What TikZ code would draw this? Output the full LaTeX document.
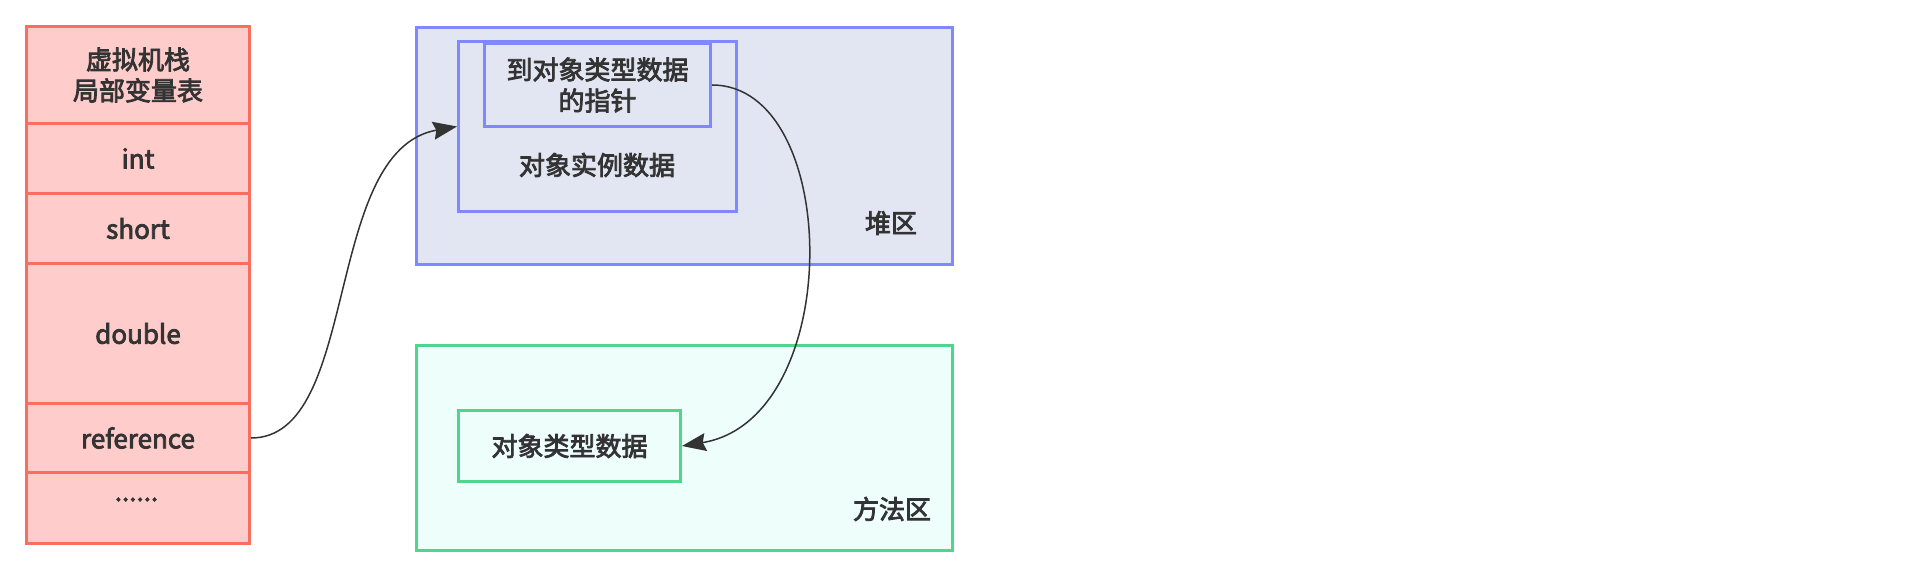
\documentclass[tikz,border=0pt]{standalone}
\usepackage{fontspec}
\setmainfont{Noto Sans CJK SC}[FakeBold=3]
\usetikzlibrary{arrows.meta}
\definecolor{redb}{HTML}{F96E5E}
\definecolor{redf}{HTML}{FFCCCC}
\definecolor{blueb}{HTML}{8088FF}
\definecolor{bluef}{HTML}{E2E6F2}
\definecolor{greenb}{HTML}{50D68C}
\definecolor{greenf}{HTML}{EEFEFA}
\definecolor{txt}{HTML}{333333}
\tikzset{
  lbl/.style={font=\fontsize{13}{15.5}\selectfont, text=txt, inner sep=0pt, align=center},
  cell/.style={lbl, draw=redb, fill=redf, line width=1.5pt, anchor=north west, minimum width=111.5pt},
  heapbox/.style={lbl, draw=blueb, fill=bluef, line width=1.5pt, anchor=north west},
  methbox/.style={lbl, draw=greenb, fill=greenf, line width=1.5pt, anchor=north west},
  conn/.style={draw=txt, line width=0.75pt, -{Stealth[length=12pt,width=9pt,inset=1.5pt]}}
}
\begin{document}
\begin{tikzpicture}[x=0.5pt,y=-0.5pt]
\useasboundingbox (0,0) rectangle (1930,572);
% stack cells
\node[cell, minimum height=48.5pt] (r0) at (25,25) {虚拟机栈\\局部变量表};
\node[cell, minimum height=35pt] (r1) at (25,122) {int};
\node[cell, minimum height=35pt] (r2) at (25,192) {short};
\node[cell, minimum height=70pt] (r3) at (25,262) {double};
\node[cell, minimum height=34.5pt] (r4) at (25,402) {reference};
\node[cell, minimum height=35.5pt] (r5) at (25,471) {};
\node[lbl, anchor=base] (dots) at (136.5,501) {......};
% heap
\node[heapbox, minimum width=268pt, minimum height=118.5pt] (heap) at (415,26) {};
\node[lbl] (heaplbl) at (891,223) {堆区};
\node[heapbox, minimum width=139pt, minimum height=85pt] (inst) at (457,40) {};
\node[lbl] (instlbl) at (597,165) {对象实例数据};
\node[heapbox, minimum width=113pt, minimum height=41.5pt] (ptr) at (483,42) {到对象类型数据\\的指针};
% method area
\node[methbox, minimum width=268pt, minimum height=102.5pt] (meth) at (415,344) {};
\node[lbl] (methlbl) at (892,509) {方法区};
\node[methbox, minimum width=111pt, minimum height=35.5pt] (cls) at (457,409) {对象类型数据};
% connectors
\draw[conn] (r4.east) .. controls +(110,0) and +(-135,24) .. (inst.west);
\draw[conn] (ptr.east) .. controls +(130,0) and +(164,-27) .. (cls.east);
\end{tikzpicture}
\end{document}
